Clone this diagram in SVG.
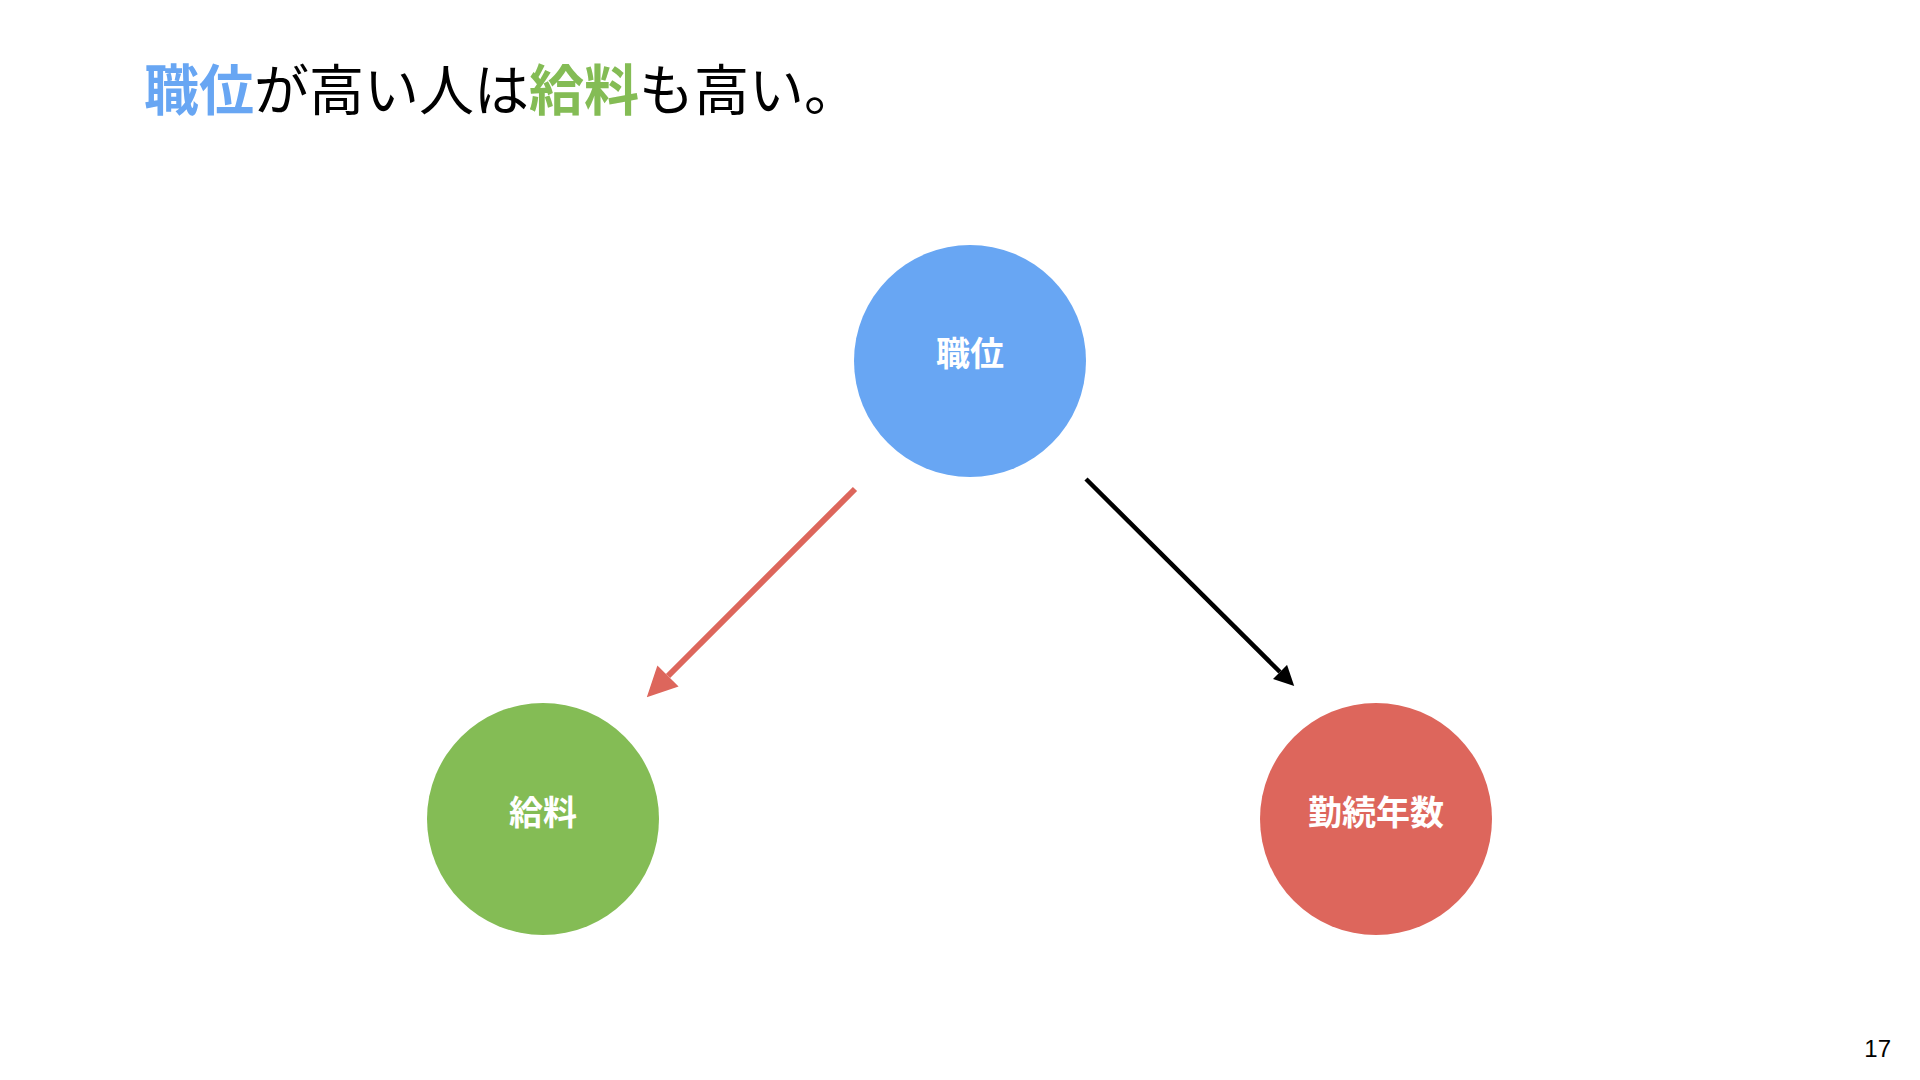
<svg xmlns="http://www.w3.org/2000/svg" width="1920" height="1080" viewBox="0 0 1920 1080">
  <style>
    .title { font-family: "Noto Sans CJK JP", "Noto Sans", sans-serif; font-size: 55px; font-weight: 400; fill: #000000; }
    .b { font-weight: 700; }
    .blue { fill: #68A6F3; }
    .green { fill: #84BC55; }
    .label { font-family: "Noto Sans CJK JP", "Noto Sans", sans-serif; font-size: 34px; font-weight: 700; fill: #FFFFFF; text-anchor: middle; }
    .page { font-family: "Liberation Sans", Arial, sans-serif; font-size: 24px; fill: #000000; text-anchor: end; }
  </style>
  <defs>
    <marker id="headRed" viewBox="0 0 10 10" refX="0" refY="5" markerUnits="userSpaceOnUse" markerWidth="30" markerHeight="32" orient="auto">
      <path d="M0,0 L10,5 L0,10 Z" fill="#DD665C"/>
    </marker>
    <marker id="headBlack" viewBox="0 0 10 10" refX="0" refY="5" markerUnits="userSpaceOnUse" markerWidth="21" markerHeight="20" orient="auto">
      <path d="M0,0 L10,5 L0,10 Z" fill="#000000"/>
    </marker>
  </defs>
  <rect width="1920" height="1080" fill="#FFFFFF"/>
  <text class="title" x="144" y="110"><tspan class="b blue">職位</tspan>が高い人は<tspan class="b green">給料</tspan>も高い。</text>
  <g id="connectors">
    <line x1="855" y1="489" x2="668" y2="676" stroke="#DD665C" stroke-width="6" marker-end="url(#headRed)"/>
    <line x1="1086" y1="479" x2="1280" y2="672" stroke="#000000" stroke-width="4.5" marker-end="url(#headBlack)"/>
  </g>
  <g id="node-shokui">
    <circle cx="970" cy="361" r="116" fill="#68A6F3"/>
    <text class="label" x="970" y="366">職位</text>
  </g>
  <g id="node-kyuryo">
    <circle cx="543" cy="819" r="116" fill="#84BC55"/>
    <text class="label" x="543" y="825">給料</text>
  </g>
  <g id="node-kinzoku">
    <circle cx="1376" cy="819" r="116" fill="#DD665C"/>
    <text class="label" x="1376" y="825">勤続年数</text>
  </g>
  <text class="page" x="1891" y="1057">17</text>
</svg>
